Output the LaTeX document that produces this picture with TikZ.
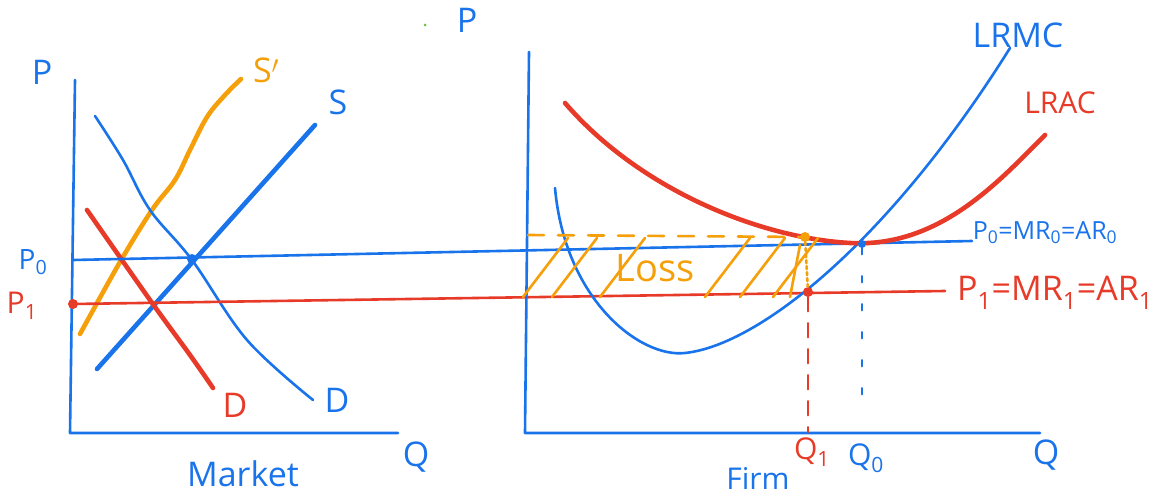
\documentclass[tikz,border=0pt]{standalone}
\usepackage{xcolor}
\usepackage{fontspec}
\setmainfont{Open Sans}
\usepackage{tikz}

\definecolor{penblue}{RGB}{25,115,235}
\definecolor{penred}{RGB}{232,58,40}
\definecolor{penorange}{RGB}{245,160,10}
\definecolor{pengreen}{RGB}{110,190,60}

\begin{document}
\begin{tikzpicture}[x=1pt, y=-1pt, line cap=round, line join=round,
  every node/.style={inner sep=0pt, font=\fontsize{34}{36}\selectfont},
  thinpen/.style={line width=2.6pt},
  thickpen/.style={line width=4.6pt},
  dot/.style={circle, fill, minimum size=10pt}]

  \useasboundingbox (0,0) rectangle (1157,500);

  % Market panel
  \coordinate (mO) at (70,433);
  \coordinate (mTop) at (75,80);
  \coordinate (mEnd) at (398,433);
  \draw[penblue, thinpen] (mTop) -- (mO) -- (mEnd);
  \node[penblue] (mP) at (42,72) {P};
  \node[penblue] (mQ) at (416,457) {Q};
  \node[penblue] (mkt) at (243,474) {Market};

  % Supply and demand
  \draw[penorange, thickpen] plot[smooth, tension=0.6] coordinates
    {(80,334) (120,262) (152,210) (175,180) (190,150) (207,117) (225,95) (241,79)};
  \node[penorange] (Sp) at (266,70) {S$'$};
  \draw[penblue, thickpen] (97,369) -- (315,125);
  \node[penblue] (S) at (338,102) {S};
  \draw[penblue, thinpen] plot[smooth, tension=0.6] coordinates
    {(95,116) (123,160) (150,210) (192,260) (247,340) (313,400)};
  \node[penblue] (Db) at (337,400) {D};
  \draw[penred, thickpen] plot[smooth, tension=0.6] coordinates
    {(87,210) (150,300) (190,355) (213,388)};
  \node[penred] (Dr) at (235,405) {D};

  % Price lines across both panels
  \coordinate (p0L) at (73,260);
  \coordinate (p0R) at (972,241);
  \coordinate (p1L) at (73,304);
  \coordinate (p1R) at (945,291);
  \draw[penblue, thinpen] (p0L) -- (p0R);
  \draw[penred, thinpen] (p1L) -- (p1R);
  \node[penred, dot] (d1) at (p1L) {};
  \node[penblue, dot] (d0) at (192,259) {};
  \node[penblue, font=\fontsize{28}{30}\selectfont] (P0) at (33,262) {P\textsubscript{0}};
  \node[penred, font=\fontsize{30}{32}\selectfont] (P1) at (22,306) {P\textsubscript{1}};

  % Firm panel
  \coordinate (fO) at (525,433);
  \coordinate (fTop) at (529,52);
  \coordinate (fEnd) at (1040,433);
  \draw[penblue, thinpen] (fTop) -- (fO) -- (fEnd);
  \node[penblue] (fP) at (467,20) {P};
  \node[penblue] (fQ) at (1046,455) {Q};
  \node[penblue, font=\fontsize{30}{32}\selectfont] (firm) at (758,478) {Firm};
  \node[pengreen, circle, fill, minimum size=3pt] (speck) at (425,25) {};

  % Cost curves
  \draw[penblue, thinpen] (555,188) .. controls (565,300) and (640,358) .. (685,353)
    .. controls (760,345) and (890,240) .. (1010,48);
  \node[penblue] (LRMC) at (1018,35) {LRMC};
  \draw[penred, thickpen] (565,103) .. controls (640,190) and (760,238) .. (850,243)
    .. controls (940,248) and (1000,180) .. (1045,135);
  \node[penred, font=\fontsize{30}{32}\selectfont] (LRAC) at (1060,103) {LRAC};

  % Loss area
  \draw[penorange, thinpen, dash pattern=on 16pt off 14pt] (528,235) -- (805,237);
  \foreach \x in {523,552,600,705,740,773}
    \draw[penorange, thinpen] (\x,297) -- (\x+45,238);
  \draw[penorange, thinpen] (790,297) -- (800,245);
  \node[penorange, font=\fontsize{38}{40}\selectfont] (loss) at (655,268) {Loss};
  \node[penorange, dot] (e1) at (805,237) {};
  \node[penred, dot] (e2) at (808,292) {};
  \node[penblue, dot, minimum size=8pt] (e0) at (862,244) {};
  \draw[penorange, thinpen, dashed] (e1) -- (e2);

  % Quantities
  \coordinate (q1) at (808,432);
  \coordinate (q0) at (862,415);
  \draw[penred, thinpen, dash pattern=on 14pt off 12pt] (e2) -- (q1);
  \draw[penblue, thinpen, dash pattern=on 6pt off 22pt] (e0) -- (q0);
  \node[penred, font=\fontsize{30}{32}\selectfont] (Q1) at (812,452) {Q\textsubscript{1}};
  \node[penblue, font=\fontsize{30}{32}\selectfont] (Q0) at (866,458) {Q\textsubscript{0}};

  % Revenue labels
  \node[penblue, font=\fontsize{25}{27}\selectfont] (r0) at (1045,233) {P\textsubscript{0}=MR\textsubscript{0}=AR\textsubscript{0}};
  \node[penred] (r1) at (1055,293) {P\textsubscript{1}=MR\textsubscript{1}=AR\textsubscript{1}};
\end{tikzpicture}
\end{document}
